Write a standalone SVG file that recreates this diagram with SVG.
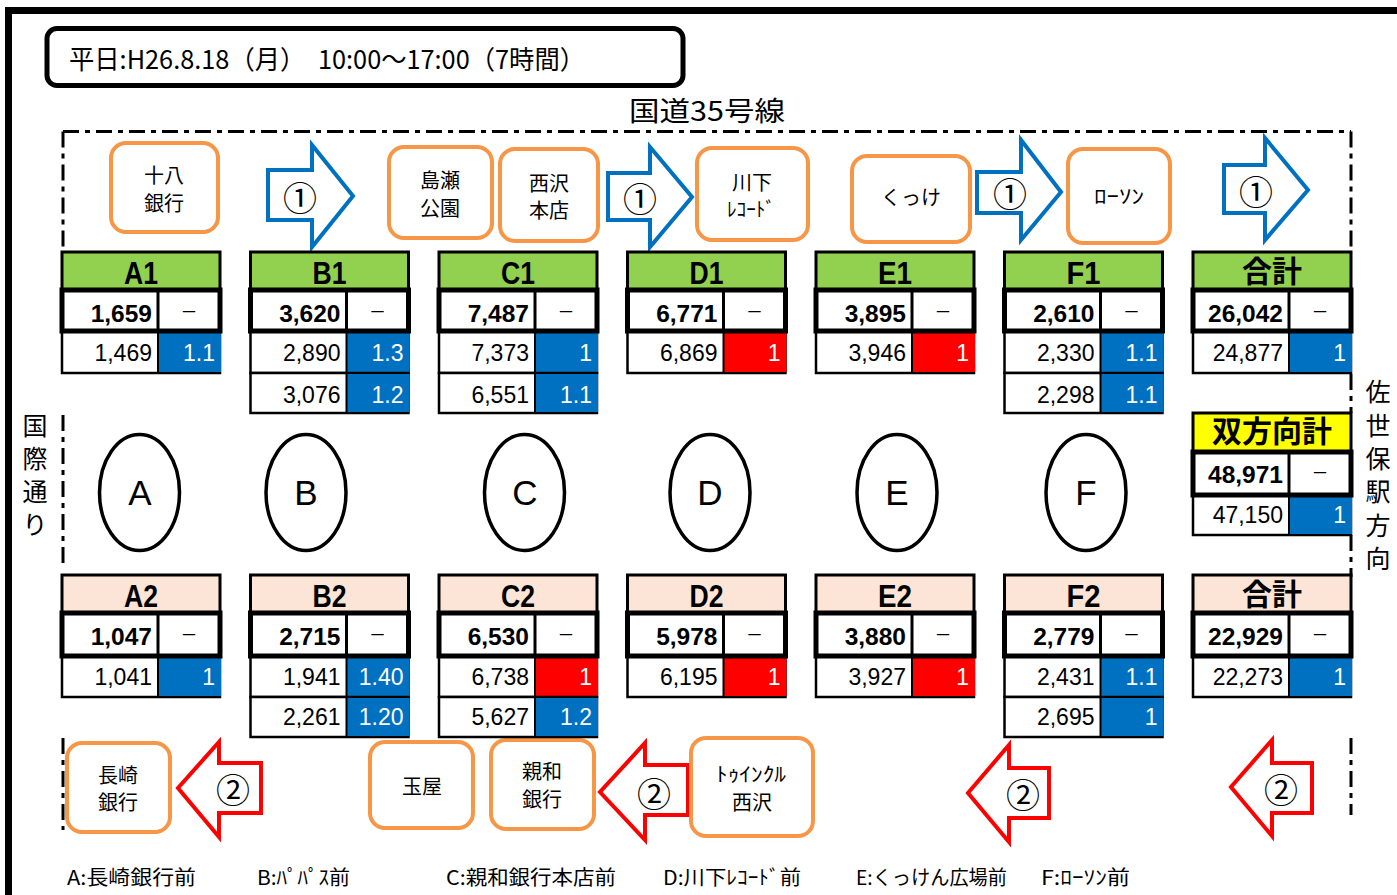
<svg xmlns="http://www.w3.org/2000/svg" width="1397" height="895" viewBox="0 0 1397 895">
<style>
.jp{font-family:"Noto Sans CJK JP",sans-serif}
.pt{font-family:"Noto Sans CJK JP",sans-serif;font-size:20px;text-anchor:middle;fill:#000}
.pbox{fill:#fff;stroke:#F79646;stroke-width:4}
.ba{fill:#fff;stroke:#0070C0;stroke-width:4;stroke-linejoin:miter}
.ra{fill:#fff;stroke:#FF0000;stroke-width:4;stroke-linejoin:miter}
.cn{font-family:"Noto Sans CJK JP",sans-serif;font-size:34px;text-anchor:middle;dominant-baseline:central}
.dsh{fill:none;stroke:#000;stroke-width:3;stroke-dasharray:16 6 5 6}
.hg{fill:#92D050;stroke:#000;stroke-width:3}
.hp{fill:#FCE4D6;stroke:#000;stroke-width:3}
.hy{fill:#FFFF00;stroke:#000;stroke-width:3}
.tot{fill:#fff;stroke:#000;stroke-width:5}
.row{fill:#fff;stroke:#000;stroke-width:2.5}
.bl{fill:#0070C0}
.rd{fill:#FF0000}
.dv{stroke:#000;stroke-width:3}
.dv2{stroke:#000;stroke-width:2}
.hl{font-family:"Liberation Sans",Arial,sans-serif;font-weight:bold;font-size:32px;text-anchor:middle}
.hj{font-family:"Noto Sans CJK JP",sans-serif;font-weight:bold;font-size:30px;text-anchor:middle}
.tn{font-family:"Liberation Sans",Arial,sans-serif;font-weight:bold;font-size:24.5px;text-anchor:end}
.dn{font-family:"Liberation Sans",Arial,sans-serif;font-size:23px;text-anchor:end}
.wv{font-family:"Liberation Sans",Arial,sans-serif;font-size:23px;text-anchor:end;fill:#fff}
.ds{font-family:"Noto Sans CJK JP",sans-serif;font-size:17px;text-anchor:middle}
.ell{fill:#fff;stroke:#000;stroke-width:3.5}
.el{font-family:"Liberation Sans",Arial,sans-serif;font-size:35px;text-anchor:middle}
.vt{font-family:"Noto Sans CJK JP",sans-serif;font-size:25px;text-anchor:middle}
.lg{font-family:"Noto Sans CJK JP",sans-serif;font-size:20px}
</style>
<rect width="1397" height="895" fill="#fff"/>
<rect x="8.5" y="10.5" width="1400" height="900" fill="none" stroke="#000" stroke-width="7"/>

<g id="header">
<rect x="47" y="28.5" width="636" height="57" rx="10" fill="#fff" stroke="#000" stroke-width="5"/>
<text class="jp" x="69" y="69" font-size="26" textLength="516" lengthAdjust="spacingAndGlyphs">平日:H26.8.18（月）　10:00～17:00（7時間）</text>
</g>
<text id="road" class="jp" x="629" y="121" font-size="27" textLength="156" lengthAdjust="spacingAndGlyphs">国道35号線</text>

<g id="boundary">
<path class="dsh" d="M63,131.5 H1351"/>
<path class="dsh" d="M63,131.5 V252 M63,415 V568 M63,738 V830"/>
<path class="dsh" d="M1351,131.5 V252 M1351,374 V413 M1351,535 V577 M1351,738 V815"/>
</g>

<g id="side-labels">
<text class="vt" x="35"><tspan x="35" y="435">国</tspan><tspan x="35" y="468">際</tspan><tspan x="35" y="501">通</tspan><tspan x="35" y="534">り</tspan></text>
<text class="vt" x="1378"><tspan x="1378" y="401">佐</tspan><tspan x="1378" y="434.5">世</tspan><tspan x="1378" y="468">保</tspan><tspan x="1378" y="501">駅</tspan><tspan x="1378" y="534.5">方</tspan><tspan x="1378" y="568">向</tspan></text>
</g>

<g id="connectors">
<g id="arrow-u1"><path class="ba" d="M268,170 H312 V145 L353,196 L312,247 V220 H268 Z"/><text class="cn" x="300" y="196">①</text></g>
<g id="arrow-u2"><path class="ba" d="M608,173 H650 V147 L692,197 L650,247 V220 H608 Z"/><text class="cn" x="640" y="197">①</text></g>
<g id="arrow-u3"><path class="ba" d="M977,172 H1021 V140 L1061,192 L1021,240 V213 H977 Z"/><text class="cn" x="1010" y="192">①</text></g>
<g id="arrow-u4"><path class="ba" d="M1224,165 H1265 V138 L1308,190 L1265,240 V213 H1224 Z"/><text class="cn" x="1256" y="190">①</text></g>
<g id="arrow-l1"><path class="ra" d="M261,763 H219 V742 L178,788 L219,837 V813 H261 Z"/><text class="cn" x="233" y="788">②</text></g>
<g id="arrow-l2"><path class="ra" d="M688,765 H645 V743 L600,792 L645,840 V815 H688 Z"/><text class="cn" x="654" y="792">②</text></g>
<g id="arrow-l3"><path class="ra" d="M1049,768 H1009 V745 L968,793 L1009,842 V818 H1049 Z"/><text class="cn" x="1023" y="793">②</text></g>
<g id="arrow-l4"><path class="ra" d="M1312,763 H1272 V740 L1231,787 L1272,836 V813 H1312 Z"/><text class="cn" x="1281" y="788">②</text></g>
</g>

<g id="place-juhachi"><rect class="pbox" x="111" y="143" width="107" height="89" rx="15"/><text class="pt" x="164" y="183">十八</text><text class="pt" x="164" y="211">銀行</text></g>
<g id="place-shimase"><rect class="pbox" x="389" y="147" width="103" height="91" rx="15"/><text class="pt" x="440" y="188">島瀬</text><text class="pt" x="440" y="216">公園</text></g>
<g id="place-nishizawa"><rect class="pbox" x="500" y="149" width="98" height="92" rx="15"/><text class="pt" x="549" y="191">西沢</text><text class="pt" x="549" y="218">本店</text></g>
<g id="place-kawashita"><rect class="pbox" x="697" y="148" width="111" height="92" rx="15"/><text class="pt" x="752" y="190">川下</text><text class="pt" x="751" y="217" font-size="17" textLength="48" lengthAdjust="spacingAndGlyphs">ﾚｺｰﾄﾞ</text></g>
<g id="place-kukke"><rect class="pbox" x="852" y="156" width="118" height="86" rx="15"/><text class="pt" x="911" y="205">くっけ</text></g>
<g id="place-lawson"><rect class="pbox" x="1068" y="149" width="102" height="94" rx="15"/><text class="pt" x="1119" y="204" font-size="18" textLength="50" lengthAdjust="spacingAndGlyphs">ﾛｰｿﾝ</text></g>
<g id="place-nagasaki"><rect class="pbox" x="67" y="743" width="103" height="89" rx="15"/><text class="pt" x="118" y="783">長崎</text><text class="pt" x="118" y="810">銀行</text></g>
<g id="place-tamaya"><rect class="pbox" x="370" y="742" width="103" height="86" rx="15"/><text class="pt" x="422" y="794">玉屋</text></g>
<g id="place-shinwa"><rect class="pbox" x="491" y="740" width="103" height="89" rx="15"/><text class="pt" x="542" y="779">親和</text><text class="pt" x="542" y="807">銀行</text></g>
<g id="place-twinkle"><rect class="pbox" x="691" y="738" width="122" height="98" rx="15"/><text class="pt" x="751" y="782" font-size="18" textLength="70" lengthAdjust="spacingAndGlyphs">ﾄｩｲﾝｸﾙ</text><text class="pt" x="752" y="810">西沢</text></g>

<g id="point-A"><ellipse class="ell" cx="139.5" cy="492.5" rx="40" ry="58"/><text class="el" x="140" y="505">A</text></g>
<g id="point-B"><ellipse class="ell" cx="306" cy="492.5" rx="40" ry="58"/><text class="el" x="306" y="505">B</text></g>
<g id="point-C"><ellipse class="ell" cx="524.5" cy="492.5" rx="40" ry="58"/><text class="el" x="525" y="505">C</text></g>
<g id="point-D"><ellipse class="ell" cx="710" cy="492.5" rx="40" ry="58"/><text class="el" x="710" y="505">D</text></g>
<g id="point-E"><ellipse class="ell" cx="897" cy="492.5" rx="40" ry="58"/><text class="el" x="897" y="505">E</text></g>
<g id="point-F"><ellipse class="ell" cx="1086" cy="492.5" rx="40" ry="58"/><text class="el" x="1086" y="505">F</text></g>

<!-- upper tables -->
<g id="table-A1">
<rect class="hg" x="62" y="252" width="158" height="38"/><text class="hl" x="141" y="284" textLength="34" lengthAdjust="spacingAndGlyphs">A1</text>
<rect class="row" x="62" y="331" width="158" height="42"/><rect class="bl" x="158" y="332" width="63" height="40"/><line class="dv2" x1="158" y1="331" x2="158" y2="373"/>
<text class="dn" x="152" y="361">1,469</text><text class="wv" x="215" y="361">1.1</text>
<rect class="tot" x="62" y="290" width="158" height="41"/><line class="dv" x1="158" y1="290" x2="158" y2="331"/>
<text class="tn" x="152" y="322">1,659</text><text class="ds" x="189" y="318">－</text>
</g>
<g id="table-B1">
<rect class="hg" x="250.5" y="252" width="158" height="38"/><text class="hl" x="329.5" y="284" textLength="34" lengthAdjust="spacingAndGlyphs">B1</text>
<rect class="row" x="250.5" y="331" width="158" height="42"/><rect class="bl" x="346.5" y="332" width="63" height="40"/><line class="dv2" x1="346.5" y1="331" x2="346.5" y2="373"/>
<text class="dn" x="340.5" y="361">2,890</text><text class="wv" x="403.5" y="361">1.3</text>
<rect class="row" x="250.5" y="373" width="158" height="40"/><rect class="bl" x="346.5" y="374" width="63" height="38"/><line class="dv2" x1="346.5" y1="373" x2="346.5" y2="413"/>
<text class="dn" x="340.5" y="403">3,076</text><text class="wv" x="403.5" y="403">1.2</text>
<rect class="tot" x="250.5" y="290" width="158" height="41"/><line class="dv" x1="346.5" y1="290" x2="346.5" y2="331"/>
<text class="tn" x="340.5" y="322">3,620</text><text class="ds" x="377.5" y="318">－</text>
</g>
<g id="table-C1">
<rect class="hg" x="439" y="252" width="158" height="38"/><text class="hl" x="518" y="284" textLength="34" lengthAdjust="spacingAndGlyphs">C1</text>
<rect class="row" x="439" y="331" width="158" height="42"/><rect class="bl" x="535" y="332" width="63" height="40"/><line class="dv2" x1="535" y1="331" x2="535" y2="373"/>
<text class="dn" x="529" y="361">7,373</text><text class="wv" x="592" y="361">1</text>
<rect class="row" x="439" y="373" width="158" height="40"/><rect class="bl" x="535" y="374" width="63" height="38"/><line class="dv2" x1="535" y1="373" x2="535" y2="413"/>
<text class="dn" x="529" y="403">6,551</text><text class="wv" x="592" y="403">1.1</text>
<rect class="tot" x="439" y="290" width="158" height="41"/><line class="dv" x1="535" y1="290" x2="535" y2="331"/>
<text class="tn" x="529" y="322">7,487</text><text class="ds" x="566" y="318">－</text>
</g>
<g id="table-D1">
<rect class="hg" x="627.5" y="252" width="158" height="38"/><text class="hl" x="706.5" y="284" textLength="34" lengthAdjust="spacingAndGlyphs">D1</text>
<rect class="row" x="627.5" y="331" width="158" height="42"/><rect class="rd" x="723.5" y="332" width="63" height="40"/><line class="dv2" x1="723.5" y1="331" x2="723.5" y2="373"/>
<text class="dn" x="717.5" y="361">6,869</text><text class="wv" x="780.5" y="361">1</text>
<rect class="tot" x="627.5" y="290" width="158" height="41"/><line class="dv" x1="723.5" y1="290" x2="723.5" y2="331"/>
<text class="tn" x="717.5" y="322">6,771</text><text class="ds" x="754.5" y="318">－</text>
</g>
<g id="table-E1">
<rect class="hg" x="816" y="252" width="158" height="38"/><text class="hl" x="895" y="284" textLength="34" lengthAdjust="spacingAndGlyphs">E1</text>
<rect class="row" x="816" y="331" width="158" height="42"/><rect class="rd" x="912" y="332" width="63" height="40"/><line class="dv2" x1="912" y1="331" x2="912" y2="373"/>
<text class="dn" x="906" y="361">3,946</text><text class="wv" x="969" y="361">1</text>
<rect class="tot" x="816" y="290" width="158" height="41"/><line class="dv" x1="912" y1="290" x2="912" y2="331"/>
<text class="tn" x="906" y="322">3,895</text><text class="ds" x="943" y="318">－</text>
</g>
<g id="table-F1">
<rect class="hg" x="1004.5" y="252" width="158" height="38"/><text class="hl" x="1083.5" y="284" textLength="34" lengthAdjust="spacingAndGlyphs">F1</text>
<rect class="row" x="1004.5" y="331" width="158" height="42"/><rect class="bl" x="1100.5" y="332" width="63" height="40"/><line class="dv2" x1="1100.5" y1="331" x2="1100.5" y2="373"/>
<text class="dn" x="1094.5" y="361">2,330</text><text class="wv" x="1157.5" y="361">1.1</text>
<rect class="row" x="1004.5" y="373" width="158" height="40"/><rect class="bl" x="1100.5" y="374" width="63" height="38"/><line class="dv2" x1="1100.5" y1="373" x2="1100.5" y2="413"/>
<text class="dn" x="1094.5" y="403">2,298</text><text class="wv" x="1157.5" y="403">1.1</text>
<rect class="tot" x="1004.5" y="290" width="158" height="41"/><line class="dv" x1="1100.5" y1="290" x2="1100.5" y2="331"/>
<text class="tn" x="1094.5" y="322">2,610</text><text class="ds" x="1131.5" y="318">－</text>
</g>
<g id="table-total1">
<rect class="hg" x="1193" y="252" width="158" height="38"/><text class="hj" x="1272" y="282">合計</text>
<rect class="row" x="1193" y="331" width="158" height="42"/><rect class="bl" x="1289" y="332" width="63" height="40"/><line class="dv2" x1="1289" y1="331" x2="1289" y2="373"/>
<text class="dn" x="1283" y="361">24,877</text><text class="wv" x="1346" y="361">1</text>
<rect class="tot" x="1193" y="290" width="158" height="41"/><line class="dv" x1="1289" y1="290" x2="1289" y2="331"/>
<text class="tn" x="1283" y="322">26,042</text><text class="ds" x="1320" y="318">－</text>
</g>
<g id="table-both">
<rect class="hy" x="1193" y="413" width="158" height="39"/><text class="hj" x="1272" y="442">双方向計</text>
<rect class="row" x="1193" y="495" width="158" height="40"/><rect class="bl" x="1289" y="496" width="63" height="38"/><line class="dv2" x1="1289" y1="495" x2="1289" y2="535"/>
<text class="dn" x="1283" y="523">47,150</text><text class="wv" x="1346" y="523">1</text>
<rect class="tot" x="1193" y="452" width="158" height="43"/><line class="dv" x1="1289" y1="452" x2="1289" y2="495"/>
<text class="tn" x="1283" y="483">48,971</text><text class="ds" x="1320" y="479">－</text>
</g>

<!-- lower tables -->
<g id="table-A2">
<rect class="hp" x="62" y="575" width="158" height="38"/><text class="hl" x="141" y="607" textLength="34" lengthAdjust="spacingAndGlyphs">A2</text>
<rect class="row" x="62" y="656" width="158" height="41"/><rect class="bl" x="158" y="657" width="63" height="39"/><line class="dv2" x1="158" y1="656" x2="158" y2="697"/>
<text class="dn" x="152" y="685">1,041</text><text class="wv" x="215" y="685">1</text>
<rect class="tot" x="62" y="613" width="158" height="43"/><line class="dv" x1="158" y1="613" x2="158" y2="656"/>
<text class="tn" x="152" y="645">1,047</text><text class="ds" x="189" y="641">－</text>
</g>
<g id="table-B2">
<rect class="hp" x="250.5" y="575" width="158" height="38"/><text class="hl" x="329.5" y="607" textLength="34" lengthAdjust="spacingAndGlyphs">B2</text>
<rect class="row" x="250.5" y="656" width="158" height="41"/><rect class="bl" x="346.5" y="657" width="63" height="39"/><line class="dv2" x1="346.5" y1="656" x2="346.5" y2="697"/>
<text class="dn" x="340.5" y="685">1,941</text><text class="wv" x="403.5" y="685">1.40</text>
<rect class="row" x="250.5" y="697" width="158" height="40"/><rect class="bl" x="346.5" y="698" width="63" height="38"/><line class="dv2" x1="346.5" y1="697" x2="346.5" y2="737"/>
<text class="dn" x="340.5" y="725">2,261</text><text class="wv" x="403.5" y="725">1.20</text>
<rect class="tot" x="250.5" y="613" width="158" height="43"/><line class="dv" x1="346.5" y1="613" x2="346.5" y2="656"/>
<text class="tn" x="340.5" y="645">2,715</text><text class="ds" x="377.5" y="641">－</text>
</g>
<g id="table-C2">
<rect class="hp" x="439" y="575" width="158" height="38"/><text class="hl" x="518" y="607" textLength="34" lengthAdjust="spacingAndGlyphs">C2</text>
<rect class="row" x="439" y="656" width="158" height="41"/><rect class="rd" x="535" y="657" width="63" height="39"/><line class="dv2" x1="535" y1="656" x2="535" y2="697"/>
<text class="dn" x="529" y="685">6,738</text><text class="wv" x="592" y="685">1</text>
<rect class="row" x="439" y="697" width="158" height="40"/><rect class="bl" x="535" y="698" width="63" height="38"/><line class="dv2" x1="535" y1="697" x2="535" y2="737"/>
<text class="dn" x="529" y="725">5,627</text><text class="wv" x="592" y="725">1.2</text>
<rect class="tot" x="439" y="613" width="158" height="43"/><line class="dv" x1="535" y1="613" x2="535" y2="656"/>
<text class="tn" x="529" y="645">6,530</text><text class="ds" x="566" y="641">－</text>
</g>
<g id="table-D2">
<rect class="hp" x="627.5" y="575" width="158" height="38"/><text class="hl" x="706.5" y="607" textLength="34" lengthAdjust="spacingAndGlyphs">D2</text>
<rect class="row" x="627.5" y="656" width="158" height="41"/><rect class="rd" x="723.5" y="657" width="63" height="39"/><line class="dv2" x1="723.5" y1="656" x2="723.5" y2="697"/>
<text class="dn" x="717.5" y="685">6,195</text><text class="wv" x="780.5" y="685">1</text>
<rect class="tot" x="627.5" y="613" width="158" height="43"/><line class="dv" x1="723.5" y1="613" x2="723.5" y2="656"/>
<text class="tn" x="717.5" y="645">5,978</text><text class="ds" x="754.5" y="641">－</text>
</g>
<g id="table-E2">
<rect class="hp" x="816" y="575" width="158" height="38"/><text class="hl" x="895" y="607" textLength="34" lengthAdjust="spacingAndGlyphs">E2</text>
<rect class="row" x="816" y="656" width="158" height="41"/><rect class="rd" x="912" y="657" width="63" height="39"/><line class="dv2" x1="912" y1="656" x2="912" y2="697"/>
<text class="dn" x="906" y="685">3,927</text><text class="wv" x="969" y="685">1</text>
<rect class="tot" x="816" y="613" width="158" height="43"/><line class="dv" x1="912" y1="613" x2="912" y2="656"/>
<text class="tn" x="906" y="645">3,880</text><text class="ds" x="943" y="641">－</text>
</g>
<g id="table-F2">
<rect class="hp" x="1004.5" y="575" width="158" height="38"/><text class="hl" x="1083.5" y="607" textLength="34" lengthAdjust="spacingAndGlyphs">F2</text>
<rect class="row" x="1004.5" y="656" width="158" height="41"/><rect class="bl" x="1100.5" y="657" width="63" height="39"/><line class="dv2" x1="1100.5" y1="656" x2="1100.5" y2="697"/>
<text class="dn" x="1094.5" y="685">2,431</text><text class="wv" x="1157.5" y="685">1.1</text>
<rect class="row" x="1004.5" y="697" width="158" height="40"/><rect class="bl" x="1100.5" y="698" width="63" height="38"/><line class="dv2" x1="1100.5" y1="697" x2="1100.5" y2="737"/>
<text class="dn" x="1094.5" y="725">2,695</text><text class="wv" x="1157.5" y="725">1</text>
<rect class="tot" x="1004.5" y="613" width="158" height="43"/><line class="dv" x1="1100.5" y1="613" x2="1100.5" y2="656"/>
<text class="tn" x="1094.5" y="645">2,779</text><text class="ds" x="1131.5" y="641">－</text>
</g>
<g id="table-total2">
<rect class="hp" x="1193" y="575" width="158" height="38"/><text class="hj" x="1272" y="605">合計</text>
<rect class="row" x="1193" y="656" width="158" height="41"/><rect class="bl" x="1289" y="657" width="63" height="39"/><line class="dv2" x1="1289" y1="656" x2="1289" y2="697"/>
<text class="dn" x="1283" y="685">22,273</text><text class="wv" x="1346" y="685">1</text>
<rect class="tot" x="1193" y="613" width="158" height="43"/><line class="dv" x1="1289" y1="613" x2="1289" y2="656"/>
<text class="tn" x="1283" y="645">22,929</text><text class="ds" x="1320" y="641">－</text>
</g>

<g id="legend">
<text class="lg" x="67" y="885" textLength="129" lengthAdjust="spacingAndGlyphs">A:長崎銀行前</text>
<text class="lg" x="257" y="885" textLength="93" lengthAdjust="spacingAndGlyphs">B:ﾊﾟﾊﾟｽ前</text>
<text class="lg" x="446" y="885" textLength="170" lengthAdjust="spacingAndGlyphs">C:親和銀行本店前</text>
<text class="lg" x="663" y="885" textLength="138" lengthAdjust="spacingAndGlyphs">D:川下ﾚｺｰﾄﾞ前</text>
<text class="lg" x="856" y="885" textLength="151" lengthAdjust="spacingAndGlyphs">E:くっけん広場前</text>
<text class="lg" x="1041" y="885" textLength="89" lengthAdjust="spacingAndGlyphs">F:ﾛｰｿﾝ前</text>
</g>
</svg>
